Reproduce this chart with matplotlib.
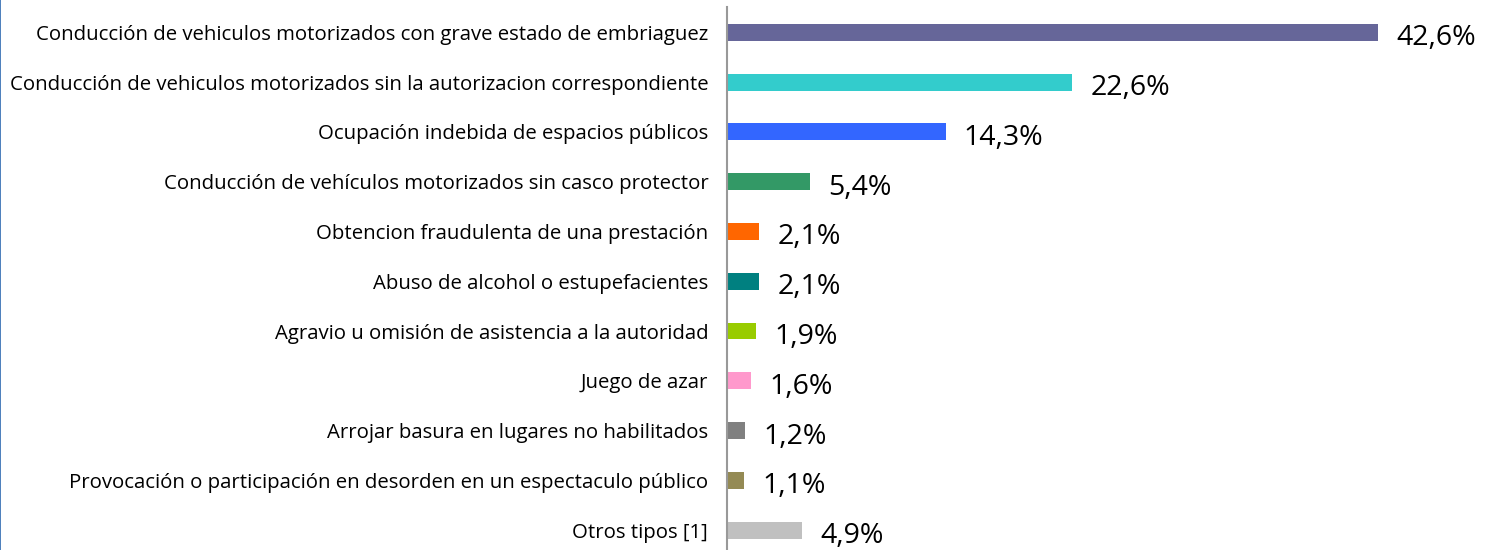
import matplotlib
matplotlib.use("Agg")
import matplotlib.pyplot as plt
from matplotlib.patches import Rectangle

categories = [
    "Conducción de vehiculos motorizados con grave estado de embriaguez",
    "Conducción de vehiculos motorizados sin la autorizacion correspondiente",
    "Ocupación indebida de espacios públicos",
    "Conducción de vehículos motorizados sin casco protector",
    "Obtencion fraudulenta de una prestación",
    "Abuso de alcohol o estupefacientes",
    "Agravio u omisión de asistencia a la autoridad",
    "Juego de azar",
    "Arrojar basura en lugares no habilitados",
    "Provocación o participación en desorden en un espectaculo público",
    "Otros tipos [1]",
]
values = [42.6, 22.6, 14.3, 5.4, 2.1, 2.1, 1.9, 1.6, 1.2, 1.1, 4.9]
colors = ["#666699", "#33CCCC", "#3366FF", "#339966", "#FF6600", "#008080",
          "#99CC00", "#FF99CC", "#808080", "#948A54", "#C0C0C0"]

fig = plt.figure(figsize=(14.92, 5.5), dpi=100)
ax = fig.add_axes([727 / 1492, 0.0, (1491 - 727) / 1492, (550 - 7) / 550])

y = list(range(len(values)))
ax.barh(y, values, height=0.34, color=colors)
ax.set_ylim(len(values) - 0.6, -0.51)
ax.set_xlim(0, 50)

ax.set_yticks(y)
ax.set_yticklabels(categories, fontsize=14.7, family="Open Sans", color="#000000")
ax.tick_params(axis="y", length=0, pad=13.5)
ax.set_xticks([])
for s in ["top", "right", "bottom"]:
    ax.spines[s].set_visible(False)
ax.spines["left"].set_color("#999999")
ax.spines["left"].set_linewidth(1.5)

for yi, v in zip(y, values):
    ax.text(v + 1.2, yi + 0.12, f"{v:.1f}%".replace(".", ","), va="center", ha="left",
            fontsize=20.5, family="Open Sans", color="#000000")

fig.add_artist(Rectangle((0, 0), 1.2 / 1492, 1, transform=fig.transFigure,
                         color="#4F81BD", lw=0))

fig.savefig("out.png", dpi=100)
